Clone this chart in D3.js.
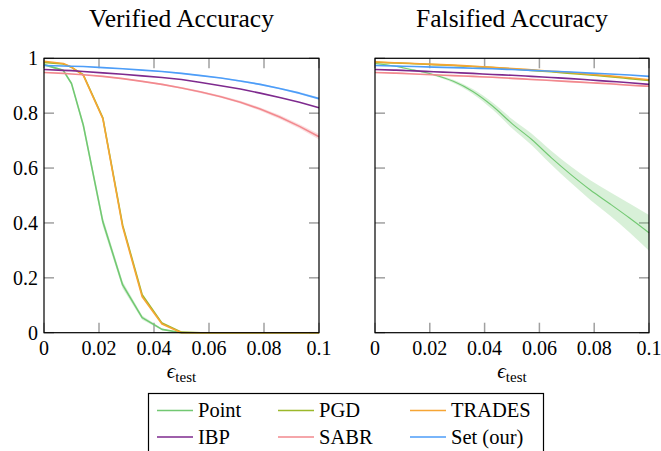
<!DOCTYPE html>
<html>
<head>
<meta charset="utf-8">
<script src="https://cdn.jsdelivr.net/npm/d3@7"></script>
</head>
<body style="margin:0">
<div id="chart"></div>
<script>
// epsilon grid
const eps = [0, 0.007, 0.01, 0.0143, 0.0214, 0.0286, 0.0357, 0.0429, 0.05, 0.0571, 0.0643, 0.0714, 0.0786, 0.0857, 0.0929, 0.1];

// Verified accuracy
const verPoint  = [0.977, 0.956, 0.908, 0.756, 0.404, 0.174, 0.055, 0.012, 0, 0, 0, 0, 0, 0, 0, 0];
const verPgd    = [0.985, 0.979, 0.967, 0.94, 0.783, 0.392, 0.138, 0.035, 0.002, 0, 0, 0, 0, 0, 0, 0];
const verTrades = [0.989, 0.981, 0.968, 0.938, 0.78, 0.386, 0.131, 0.032, 0, 0, 0, 0, 0, 0, 0, 0];
const verIbp    = [0.959, 0.956, 0.955, 0.952, 0.947, 0.942, 0.936, 0.93, 0.923, 0.912, 0.9, 0.888, 0.873, 0.857, 0.84, 0.82];
const verSabr   = [0.948, 0.945, 0.943, 0.94, 0.934, 0.926, 0.916, 0.905, 0.892, 0.877, 0.86, 0.84, 0.815, 0.786, 0.752, 0.714];
const verSet    = [0.974, 0.972, 0.971, 0.97, 0.966, 0.962, 0.957, 0.952, 0.945, 0.937, 0.928, 0.917, 0.905, 0.89, 0.873, 0.853];

const verPointStd = [0.003, 0.004, 0.006, 0.012, 0.016, 0.013, 0.008, 0.003, 0, 0, 0, 0, 0, 0, 0, 0];
const verSabrStd  = [0.001, 0.001, 0.001, 0.001, 0.002, 0.002, 0.002, 0.003, 0.003, 0.004, 0.004, 0.005, 0.006, 0.007, 0.008, 0.01];
const verSetStd   = [0.001, 0.001, 0.001, 0.001, 0.001, 0.001, 0.001, 0.002, 0.002, 0.002, 0.002, 0.003, 0.003, 0.003, 0.004, 0.004];

// Falsified accuracy
const falPoint  = [0.981, 0.972, 0.966, 0.957, 0.94, 0.916, 0.879, 0.826, 0.762, 0.705, 0.638, 0.577, 0.52, 0.47, 0.418, 0.364];
const falPgd    = [0.985, 0.983, 0.982, 0.98, 0.977, 0.974, 0.97, 0.966, 0.961, 0.956, 0.951, 0.945, 0.939, 0.933, 0.926, 0.919];
const falTrades = [0.987, 0.984, 0.983, 0.981, 0.978, 0.975, 0.971, 0.967, 0.963, 0.958, 0.953, 0.948, 0.942, 0.936, 0.929, 0.922];
const falIbp    = [0.959, 0.957, 0.956, 0.954, 0.951, 0.948, 0.945, 0.941, 0.938, 0.934, 0.93, 0.926, 0.921, 0.916, 0.911, 0.905];
const falSabr   = [0.948, 0.946, 0.945, 0.943, 0.94, 0.937, 0.934, 0.931, 0.927, 0.923, 0.919, 0.915, 0.911, 0.907, 0.902, 0.898];
const falSet    = [0.974, 0.972, 0.971, 0.97, 0.968, 0.966, 0.964, 0.962, 0.959, 0.956, 0.953, 0.95, 0.946, 0.943, 0.939, 0.934];

const falPointStd = [0.002, 0.002, 0.002, 0.003, 0.004, 0.006, 0.009, 0.013, 0.017, 0.021, 0.025, 0.03, 0.036, 0.043, 0.053, 0.065];
const falSabrStd  = [0.002, 0.002, 0.002, 0.002, 0.002, 0.002, 0.003, 0.003, 0.003, 0.003, 0.003, 0.003, 0.003, 0.003, 0.003, 0.003];

const names  = ["Point", "PGD", "TRADES", "IBP", "SABR", "Set (our)"];
const colors = ["#72c872", "#9bb82a", "#f6a534", "#7e2a8e", "#f2898e", "#4d9df8"];

const xTicks = [0, 0.02, 0.04, 0.06, 0.08, 0.1];
const yTicks = [0, 0.2, 0.4, 0.6, 0.8, 1];

const W = 661, H = 451;
const svg = d3.select("#chart").append("svg")
  .attr("width", W)
  .attr("height", H);

const plotTop = 58.3, plotBottom = 332.7;

// text helper so every label gets the serif face
function label(g, x, y, size, anchor, str) {
  return g.append("text")
    .attr("x", x).attr("y", y)
    .attr("font-family", "Liberation Serif")
    .attr("font-size", size)
    .attr("text-anchor", anchor)
    .style("font-family", "'Liberation Serif'")
    .text(str);
}

function tick(g, x1, y1, x2, y2) {
  g.append("line")
    .attr("x1", x1).attr("y1", y1).attr("x2", x2).attr("y2", y2)
    .attr("stroke", "#a0a0a0").attr("stroke-width", 1.5);
}

function panel(left, right, title, series, bands, showY, curve, pointWidth) {
  let x = d3.scaleLinear().domain([0, 0.1]).range([left, right]);
  let y = d3.scaleLinear().domain([0, 1]).range([plotBottom, plotTop]);
  let g = svg.append("g");

  // Ticks (inside, all four sides)
  for (let t of xTicks) {
    tick(g, x(t), plotBottom, x(t), plotBottom - 10);
    tick(g, x(t), plotTop, x(t), plotTop + 10);
    label(g, x(t), 355, 20, "middle", String(t));
  }
  for (let t of yTicks) {
    tick(g, left, y(t), left + 10, y(t));
    tick(g, right, y(t), right - 10, y(t));
    if (showY) label(g, left - 6, y(t) + 7, 20, "end", String(t));
  }

  // Bands
  let area = d3.area()
    .x((d, i) => x(eps[i]))
    .y0(d => y(Math.max(0, d[0] - d[1])))
    .y1(d => y(Math.min(1, d[0] + d[1])))
    .curve(curve);
  for (let b of bands) {
    let data = series[b.idx].map((v, i) => [v, b.std[i]]);
    g.append("path")
      .datum(data)
      .attr("fill", colors[b.idx])
      .attr("fill-opacity", 0.28)
      .attr("d", area);
  }

  // Lines
  let line = d3.line()
    .x((d, i) => x(eps[i]))
    .y(d => y(d))
    .curve(curve);
  series.forEach((s, k) => {
    g.append("path")
      .datum(s)
      .attr("fill", "none")
      .attr("stroke", colors[k])
      .attr("stroke-width", k === 0 ? pointWidth : 1.6)
      .attr("stroke-linejoin", "round")
      .attr("d", line);
  });

  g.append("rect")
    .attr("x", left).attr("y", plotTop)
    .attr("width", right - left).attr("height", plotBottom - plotTop)
    .attr("fill", "none").attr("stroke", "#000").attr("stroke-width", 1.2);

  // Title
  label(g, (left + right) / 2, 27, 25.5, "middle", title);

  // x label
  let xl = label(g, (left + right) / 2, 378, 21, "middle", null);
  xl.append("tspan").style("font-style", "italic").text("ϵ");
  xl.append("tspan").attr("font-size", 15).attr("dy", 4).text("test");
}

panel(44, 319, "Verified Accuracy",
  [verPoint, verPgd, verTrades, verIbp, verSabr, verSet],
  [{idx: 0, std: verPointStd}, {idx: 4, std: verSabrStd}, {idx: 5, std: verSetStd}],
  true, d3.curveLinear, 1.6);

panel(375, 649, "Falsified Accuracy",
  [falPoint, falPgd, falTrades, falIbp, falSabr, falSet],
  [{idx: 0, std: falPointStd}, {idx: 4, std: falSabrStd}],
  false, d3.curveMonotoneX, 1.1);

// Legend
let legend = svg.append("g");
legend.append("rect")
  .attr("x", 148.5).attr("y", 393.5)
  .attr("width", 395).attr("height", 80)
  .attr("fill", "#fff").attr("stroke", "#000").attr("stroke-width", 1.2);

const colX = [157, 278, 410];
const rowY = [410.5, 437];
names.forEach((n, i) => {
  let cx = colX[i % 3], cy = rowY[Math.floor(i / 3)];
  legend.append("line")
    .attr("x1", cx).attr("x2", cx + 36)
    .attr("y1", cy).attr("y2", cy)
    .attr("stroke", colors[i]).attr("stroke-width", 1.6);
  label(legend, cx + 41, cy + 6.5, 20.5, "start", n);
});
</script>
</body>
</html>
